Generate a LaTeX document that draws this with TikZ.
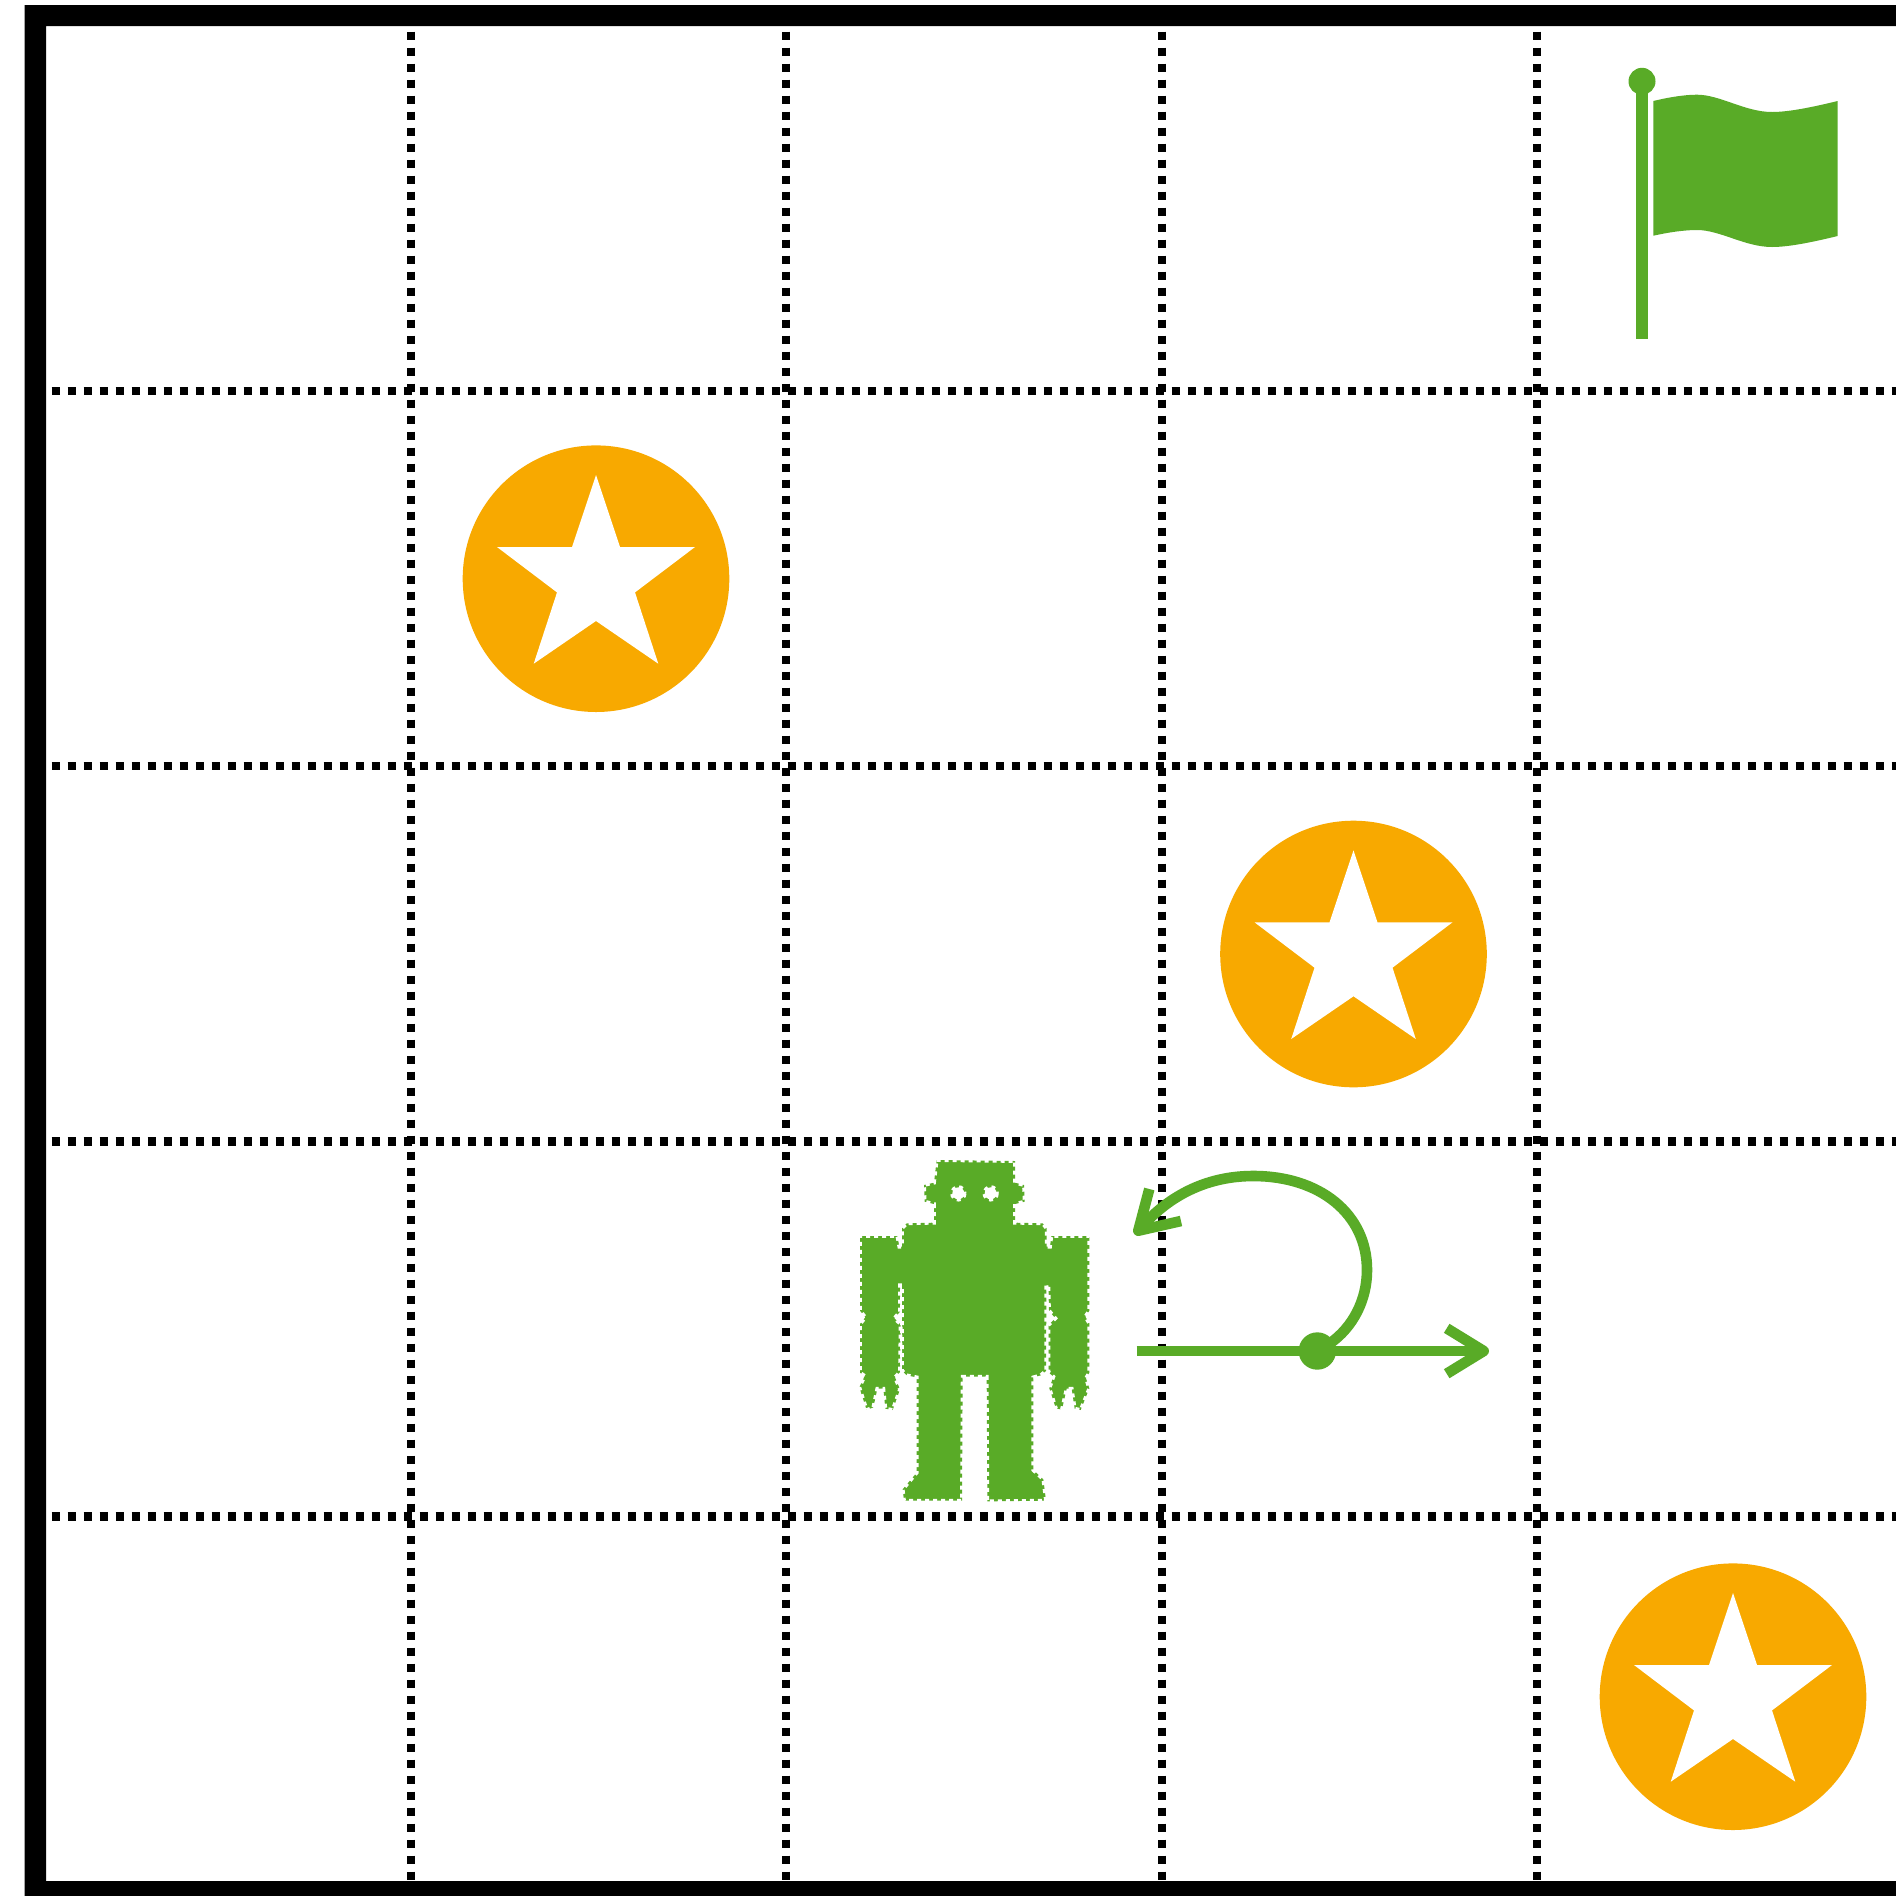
\documentclass[tikz,border=0pt]{standalone}
\definecolor{robogreen}{HTML}{59AB27}
\definecolor{coinorange}{HTML}{F8A900}
\tikzset{
  gridline/.style={black,line width=4.3pt,dash pattern=on 4.3pt off 3.7pt},
  greenline/.style={robogreen,line width=5.3pt},
  barb/.style={robogreen,line width=5.3pt,line join=round},
  crenel/.style={white,line width=1.9pt,dash pattern=on 2pt off 2pt},
  coin/.pic={
    \fill[coinorange] (0,0) circle[radius=133.3];
    \fill[white] (0,-103.7)--(24,-31.7)--(99,-31.7)--(39,13.7)--(62.3,85)--(0,42.3)
      --(-62.3,85)--(-39,13.7)--(-99,-31.7)--(-24,-31.7)--cycle;
  }
}
\begin{document}
\begin{tikzpicture}[x=0.5pt,y=-0.5pt]
\useasboundingbox (0,0) rectangle (1896,1896);
\clip (0,0) rectangle (1896,1896);
\fill[white] (0,0) rectangle (1896,1896);
% frame, open on the right
\fill[black,even odd rule] (24.5,5) rectangle (1900,1900) (46,26) rectangle (1900,1881);
% grid
\foreach \gx in {411,786,1162,1537}
  \draw[gridline] (\gx,31.5) -- (\gx,1881);
\foreach \gy in {391,766,1141.5,1516.5}
  \draw[gridline] (51.5,\gy) -- (1900,\gy);
% coins
\pic at (596,578.7) {coin};
\pic at (1353.5,954) {coin};
\pic at (1733,1696.7) {coin};
% flag
\fill[robogreen] (1642,81.3) circle[radius=13.5];
\fill[robogreen] (1636,81) rectangle (1648,339);
\fill[robogreen] (1653.3,101) .. controls (1670,97) and (1685,94.7) .. (1697,94.7)
  .. controls (1720,94.7) and (1745,112) .. (1772,112)
  .. controls (1790,112) and (1815,106.5) .. (1837.7,101)
  -- (1837.7,236)
  .. controls (1815,241.5) and (1790,247) .. (1772,247)
  .. controls (1745,247) and (1720,230) .. (1697,230)
  .. controls (1685,230) and (1670,232) .. (1653.3,235.7) -- cycle;
% robot
\begin{scope}[shift={(840,1140)},x=0.16667pt,y=-0.16667pt]
\def\robotpath{(290,60)--(525,63)--(525,128)--(552,135)--(554,185)--(525,192)--(525,248)
  --(608,250)--(620,265)--(620,320)--(630,320)--(634,288)--(748,288)--(748,512)--(736,530)
  --(748,550)--(748,698)--(738,715)--(748,745)--(722,810)--(704,806)--(695,746)--(680,746)
  --(666,808)--(648,806)--(628,745)--(640,710)--(625,696)--(625,555)--(646,535)--(627,512)
  --(625,436)--(619,436)--(619,692)--(602,706)--(580,712)--(580,990)--(610,1018)--(618,1082)
  --(442,1084)--(440,710)--(368,710)--(366,1082)--(192,1082)--(188,1048)--(230,998)--(230,712)
  --(200,706)--(186,692)--(186,436)--(180,436)--(180,515)--(163,535)--(182,552)--(180,696)
  --(165,712)--(180,748)--(158,810)--(136,806)--(130,746)--(112,746)--(100,802)--(80,810)
  --(58,742)--(74,708)--(60,698)--(60,552)--(76,532)--(60,512)--(60,288)--(172,288)--(178,320)
  --(186,320)--(186,265)--(200,250)--(282,248)--(282,192)--(254,185)--(252,135)--(282,128)--cycle}
\fill[robogreen] \robotpath;
\draw[crenel] \robotpath;
\fill[white] (355,160) circle[radius=18];
\fill[white] (452,160) circle[radius=18];
\draw[white,line width=1.5pt,dash pattern=on 2pt off 2pt] (355,160) circle[radius=20];
\draw[white,line width=1.5pt,dash pattern=on 2pt off 2pt] (452,160) circle[radius=20];
\end{scope}
% motion arrows
\coordinate (movestart) at (1136.7,1351);
\coordinate (movetip) at (1483.7,1351);
\coordinate (moveup) at (1446.7,1328.3);
\coordinate (movedown) at (1446.7,1373.7);
\coordinate (turntip) at (1138.3,1230.7);
\coordinate (turnup) at (1149.3,1189);
\coordinate (turndown) at (1181,1221);
\node[circle,fill=robogreen,inner sep=0pt,minimum size=18.7pt] (pivot) at (1317.3,1351) {};
\draw[greenline] (movestart) -- (movetip);
\draw[barb] (moveup) -- (movetip) -- (movedown);
\draw[greenline] (pivot.center) ++(12.7,-7.7) .. controls (1353,1327) and (1367,1300) .. (1367,1270)
  .. controls (1367,1214) and (1320,1176) .. (1253.3,1176)
  .. controls (1210,1176) and (1170,1193) .. (turntip);
\draw[barb] (turnup) -- (turntip) -- (turndown);
\end{tikzpicture}
\end{document}
